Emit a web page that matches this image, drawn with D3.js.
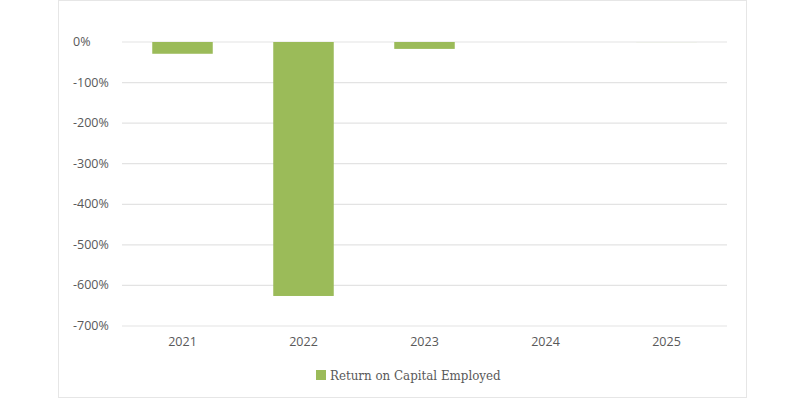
<!DOCTYPE html>
<html><head><meta charset="utf-8">
<script src="https://cdn.jsdelivr.net/npm/d3@7"></script>
<style>
body{margin:0;background:#fff;}
svg{display:block;}
</style></head>
<body>
<svg id="c" width="800" height="400"></svg>
<script>
const categories = ["2021","2022","2023","2024","2025"];
const values = [-29, -626, -17, 0, -0.6];
const yTicks = [0,-100,-200,-300,-400,-500,-600,-700];
const seriesName = "Return on Capital Employed";

(function(){
const svg = d3.select("#c");
const mLeft = 122, mRight = 727, mTop = 42, mBottom = 326;

svg.append("rect").attr("x",58.5).attr("y",0.5).attr("width",688).attr("height",397)
  .attr("fill","#fff").attr("stroke","#e6e6e6").attr("stroke-width",1);

const x = d3.scaleBand().domain(categories).range([mLeft,mRight]).paddingInner(0.5).paddingOuter(0.25);
const y = d3.scaleLinear().domain([-700,0]).range([mBottom,mTop]);

svg.append("g").selectAll("line").data(yTicks).join("line")
  .attr("x1",mLeft).attr("x2",mRight)
  .attr("y1",d=>y(d)).attr("y2",d=>y(d))
  .attr("stroke","#e3e3e3").attr("stroke-width",1.2);

svg.append("g").selectAll("text").data(yTicks).join("text")
  .attr("x",73).attr("y",d=>y(d)+4)
  .attr("font-family","'Open Sans', 'DejaVu Sans', sans-serif")
  .attr("font-size",12.5).attr("fill","#595959")
  .text(d=>d+"%");

svg.append("g").selectAll("rect").data(values).join("rect")
  .attr("x",(d,i)=>x(categories[i]))
  .attr("width",x.bandwidth())
  .attr("y",d=>y(Math.max(0,d)))
  .attr("height",d=>Math.abs(y(d)-y(0)))
  .attr("fill",(d,i)=> i===4 ? "#e3e8cf" : "#9bbb59");

svg.append("g").selectAll("text").data(categories).join("text")
  .attr("x",d=>x(d)+x.bandwidth()/2).attr("y",346)
  .attr("text-anchor","middle")
  .attr("font-family","'Open Sans', 'DejaVu Sans', sans-serif")
  .attr("font-size",12.5).attr("fill","#595959")
  .text(d=>d);

const lg = svg.append("g");
lg.append("rect").attr("x",316).attr("y",370).attr("width",10).attr("height",10).attr("fill","#9bbb59");
lg.append("text").attr("x",330).attr("y",380)
  .attr("font-family","'DejaVu Serif Condensed', 'DejaVu Serif', serif")
  .attr("font-stretch","condensed")
  .attr("font-size",13.2).attr("fill","#595959")
  .text(seriesName);
})();
</script>
</body></html>
